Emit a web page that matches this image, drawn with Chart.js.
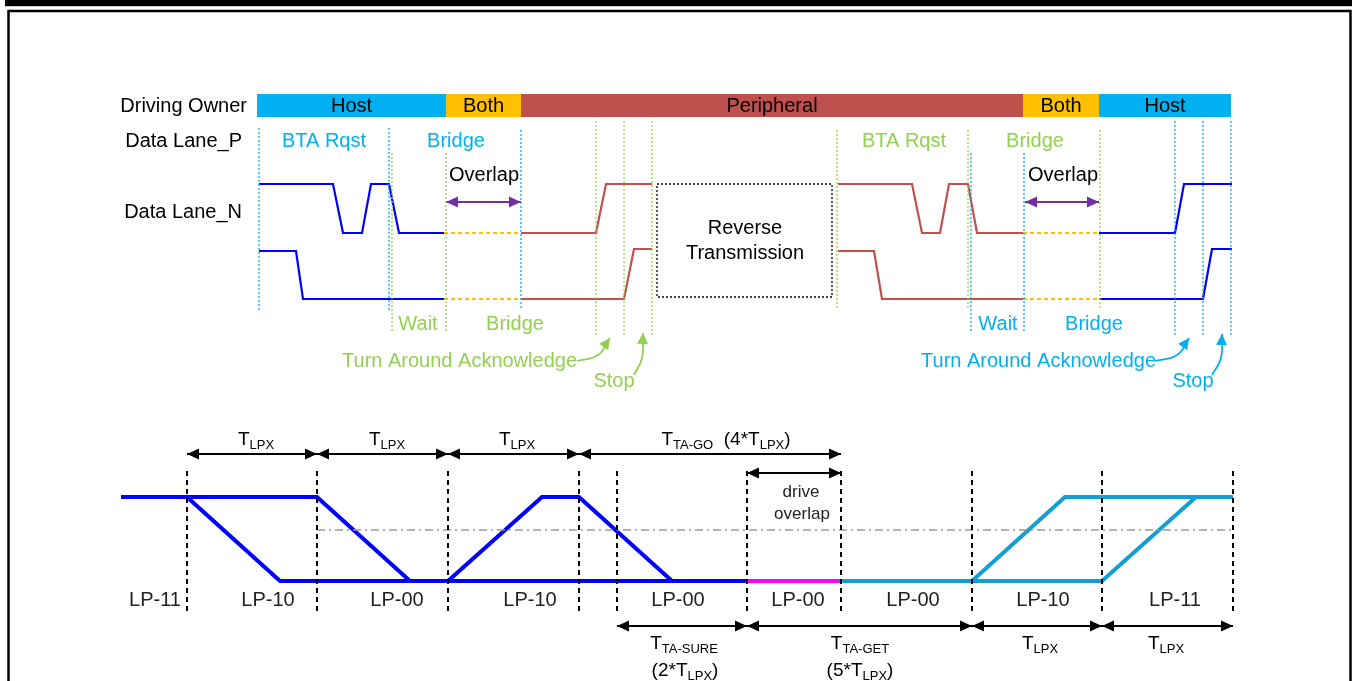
<!DOCTYPE html>
<html>
<head>
<meta charset="utf-8">
<title>LP turnaround timing</title>
<script src="https://cdn.jsdelivr.net/npm/chart.js@4.4.0/dist/chart.umd.min.js"></script>
<style>
  html, body { margin: 0; padding: 0; background: #fff; }
  #timing { display: block; }
</style>
</head>
<body>
<canvas id="timing" width="1357" height="681"></canvas>
<script>
// diagram space: x = time position, y = level position (top down)
const ownerNames = ['Host', 'Both', 'Peripheral', 'Both', 'Host']
const ownerEdges = [257, 446, 521, 1023, 1099, 1231]
const ownerColors = ['#00B0F0', '#FFC000', '#C0504D', '#FFC000', '#00B0F0']

// upper diagram: Data Lane_P / Data Lane_N
const laneP_host1 = [[259, 184], [333, 184], [343, 233], [362, 233], [371, 184], [389, 184], [399, 233], [444, 233]]
const laneN_host1 = [[259, 251], [296, 251], [303, 299], [444, 299]]
const laneP_bridge1 = [[444, 233], [521, 233]]
const laneN_bridge1 = [[444, 299], [521, 299]]
const laneP_per1 = [[521, 233], [596, 233], [606, 184], [652, 184]]
const laneN_per1 = [[521, 299], [624, 299], [634, 249], [652, 249]]
const laneP_per2 = [[838, 184], [912, 184], [922, 233], [940, 233], [949, 184], [968, 184], [977, 233], [1023, 233]]
const laneN_per2 = [[838, 251], [874, 251], [882, 299], [1023, 299]]
const laneP_bridge2 = [[1023, 233], [1099, 233]]
const laneN_bridge2 = [[1023, 299], [1099, 299]]
const laneP_host2 = [[1099, 233], [1175, 233], [1184, 184], [1232, 184]]
const laneN_host2 = [[1099, 299], [1203, 299], [1212, 249], [1232, 249]]
const reverseBox = [[657, 184], [832, 184], [832, 297], [657, 297], [657, 184]]

// dotted markers: [x, top, bottom]
const hostMarks = [[259, 128, 310], [389, 128, 310], [521, 130, 310], [971, 153, 333], [1024, 153, 333], [1175, 121, 336], [1203, 121, 336], [1231, 121, 336]]
const perMarks = [[392, 153, 333], [446, 153, 333], [596, 121, 336], [624, 121, 336], [652, 121, 336], [837, 130, 310], [968, 130, 310], [1100, 130, 310]]

const overlapArrows = [[446, 1025], [521, 1099]] // starts, ends
const overlapY = 202

// callout arrows (start, bend, tip)
const ackArrowPer = [[577, 361], [598, 355], [610, 338]]
const stopArrowPer = [[634, 375], [642, 358], [643, 333]]
const ackArrowHost = [[1155, 361], [1177, 355], [1189, 338]]
const stopArrowHost = [[1212, 375], [1221, 358], [1222, 334]]

// lower diagram: LP states
const lpWaveA = [[121, 497], [317, 497], [410, 581]]
const lpWaveB = [[187, 497], [280, 581], [747, 581]]
const lpWaveC = [[448, 581], [542, 497], [579, 497], [672, 581]]
const lpOverlap = [[747, 581], [841, 581]]
const lpWaveD = [[841, 581], [1102, 581], [1196, 497], [1233, 497]]
const lpWaveE = [[972, 581], [1065, 497], [1233, 497]]
const lpThresh = [[317, 530], [1232, 530]]
const lpMarks = [187, 317, 448, 579, 617, 747, 841, 972, 1102, 1233]
const lpMarkTop = 471
const lpMarkBottom = 614
const lpStates = ['LP-11', 'LP-10', 'LP-00', 'LP-10', 'LP-00', 'LP-00', 'LP-00', 'LP-10', 'LP-11']
const lpStateX = [155, 268, 397, 530, 678, 798, 913, 1043, 1175]

const spanRow1 = [[187, 317], [317, 448], [448, 579], [579, 841]]
const spanRow2 = [[747, 841]]
const spanRow3 = [[617, 747], [747, 972], [972, 1102], [1102, 1233]]
const spanY = [454, 473, 626]

const FONT = '"Liberation Sans", Arial, sans-serif'

function line(data, color, width, extra) {
  return Object.assign({
    data: data.map(([x, y]) => ({ x, y })),
    showLine: true,
    borderColor: color,
    borderWidth: width,
    pointRadius: 0,
    fill: false,
    tension: 0,
  }, extra || {})
}

const datasets = []

// owner bars
ownerNames.forEach((name, i) => {
  datasets.push(line([[ownerEdges[i], 94], [ownerEdges[i + 1], 94]], ownerColors[i], 0, {
    fill: { value: 117 },
    backgroundColor: ownerColors[i],
  }))
})

hostMarks.forEach(([x, t, b]) => datasets.push(line([[x, t], [x, b]], '#00B0F0', 1.3, { borderDash: [2, 2] })))
perMarks.forEach(([x, t, b]) => datasets.push(line([[x, t], [x, b]], '#92D050', 1.3, { borderDash: [2, 2] })))

const BLUE = '#0000FF'
const RED = '#C0504D'
datasets.push(line(laneP_host1, BLUE, 2.2), line(laneN_host1, BLUE, 2.2))
datasets.push(line(laneP_bridge1, '#FFC000', 2, { borderDash: [4, 3] }), line(laneN_bridge1, '#FFC000', 2, { borderDash: [4, 3] }))
datasets.push(line(laneP_per1, RED, 2.2), line(laneN_per1, RED, 2.2))
datasets.push(line(laneP_per2, RED, 2.2), line(laneN_per2, RED, 2.2))
datasets.push(line(laneP_bridge2, '#FFC000', 2, { borderDash: [4, 3] }), line(laneN_bridge2, '#FFC000', 2, { borderDash: [4, 3] }))
datasets.push(line(laneP_host2, BLUE, 2.2), line(laneN_host2, BLUE, 2.2))
datasets.push(line(reverseBox, '#000', 1.3, { borderDash: [2, 2] }))

overlapArrows[0].forEach((x0, i) => {
  datasets.push(line([[x0, overlapY], [overlapArrows[1][i], overlapY]], '#7030A0', 2, { arrowEnds: 'both', arrowLen: 12, arrowHalf: 5.5 }))
})

datasets.push(line(ackArrowPer, '#92D050', 1.8, { tension: 0.45, arrowEnds: 'end', arrowLen: 11, arrowHalf: 5.5 }))
datasets.push(line(stopArrowPer, '#92D050', 1.8, { tension: 0.45, arrowEnds: 'end', arrowLen: 11, arrowHalf: 5.5 }))
datasets.push(line(ackArrowHost, '#00B0F0', 1.8, { tension: 0.45, arrowEnds: 'end', arrowLen: 11, arrowHalf: 5.5 }))
datasets.push(line(stopArrowHost, '#00B0F0', 1.8, { tension: 0.45, arrowEnds: 'end', arrowLen: 11, arrowHalf: 5.5 }))

// lower diagram
lpMarks.forEach((x) => datasets.push(line([[x, lpMarkTop], [x, lpMarkBottom]], '#000', 2, { borderDash: [5, 4] })))
datasets.push(line(lpThresh, '#9A9A9A', 1.5, { borderDash: [8, 4, 2, 4] }))
datasets.push(line(lpWaveA, BLUE, 4), line(lpWaveB, BLUE, 4), line(lpWaveC, BLUE, 4))
datasets.push(line(lpWaveD, '#139FD3', 4), line(lpWaveE, '#139FD3', 4))
datasets.push(line(lpOverlap, '#FF00FF', 4))

;[spanRow1, spanRow2, spanRow3].forEach((row, r) => {
  row.forEach(([a, b]) => datasets.push(line([[a, spanY[r]], [b, spanY[r]]], '#000', 2, { arrowEnds: 'both', arrowLen: 12, arrowHalf: 5.5 })))
})

// texts: [text, x, y, color, size, align]
const labels = [
  ['Driving Owner', 247, 106, '#000', 20, 'right'],
  ['Data Lane_P', 242, 141, '#000', 20, 'right'],
  ['Data Lane_N', 242, 212, '#000', 20, 'right'],
  ['BTA Rqst', 324, 141, '#00B0F0', 20, 'center'],
  ['Bridge', 456, 141, '#00B0F0', 20, 'center'],
  ['BTA Rqst', 904, 141, '#92D050', 20, 'center'],
  ['Bridge', 1035, 141, '#92D050', 20, 'center'],
  ['Overlap', 484, 175, '#000', 20, 'center'],
  ['Overlap', 1063, 175, '#000', 20, 'center'],
  ['Reverse', 745, 228, '#000', 20, 'center'],
  ['Transmission', 745, 253, '#000', 20, 'center'],
  ['Wait', 418, 324, '#92D050', 20, 'center'],
  ['Bridge', 515, 324, '#92D050', 20, 'center'],
  ['Wait', 998, 324, '#00B0F0', 20, 'center'],
  ['Bridge', 1094, 324, '#00B0F0', 20, 'center'],
  ['Turn Around Acknowledge', 577, 361, '#92D050', 20, 'right'],
  ['Stop', 614, 381, '#92D050', 20, 'center'],
  ['Turn Around Acknowledge', 1156, 361, '#00B0F0', 20, 'right'],
  ['Stop', 1193, 381, '#00B0F0', 20, 'center'],
  ['drive', 801, 492, '#222', 17, 'center'],
  ['overlap', 802, 514, '#222', 17, 'center'],
]
// rich texts with subscripts: baseline y
const richLabels = [
  ['T_{LPX}', 256, 445],
  ['T_{LPX}', 387, 445],
  ['T_{LPX}', 517, 445],
  ['T_{TA-GO}  (4*T_{LPX})', 726, 445],
  ['T_{TA-SURE}', 684, 649],
  ['(2*T_{LPX})', 685, 676],
  ['T_{TA-GET}', 860, 649],
  ['(5*T_{LPX})', 860, 676],
  ['T_{LPX}', 1040, 649],
  ['T_{LPX}', 1166, 649],
]

function drawRich(ctx, str, x, y, size) {
  const parts = []
  const re = /_\{([^}]*)\}/g
  let last = 0
  let m
  while ((m = re.exec(str))) {
    if (m.index > last) parts.push([str.slice(last, m.index), false])
    parts.push([m[1], true])
    last = re.lastIndex
  }
  if (last < str.length) parts.push([str.slice(last), false])
  const subSize = 13
  let total = 0
  parts.forEach(([t, sub]) => {
    ctx.font = `${sub ? subSize : size}px ${FONT}`
    total += ctx.measureText(t).width
  })
  let cx = x - total / 2
  ctx.textAlign = 'left'
  ctx.textBaseline = 'alphabetic'
  parts.forEach(([t, sub]) => {
    ctx.font = `${sub ? subSize : size}px ${FONT}`
    ctx.fillText(t, cx, sub ? y + 4 : y)
    cx += ctx.measureText(t).width
  })
}

const decorPlugin = {
  id: 'decor',
  beforeDraw(chart) {
    const { ctx, width, height } = chart
    ctx.save()
    ctx.fillStyle = '#fff'
    ctx.fillRect(0, 0, width, height)
    ctx.fillStyle = '#000'
    ctx.fillRect(5, 0, 1347, 6)
    ctx.fillStyle = '#c8c8c8'
    ctx.fillRect(5, 6, 1347, 1)
    ctx.strokeStyle = '#000'
    ctx.lineWidth = 2.5
    ctx.beginPath()
    ctx.moveTo(8.5, height + 5)
    ctx.lineTo(8.5, 11)
    ctx.lineTo(1350.5, 11)
    ctx.lineTo(1350.5, height + 5)
    ctx.stroke()
    ctx.restore()
  },
  afterDatasetsDraw(chart) {
    const { ctx } = chart
    const sx = chart.scales.x
    const sy = chart.scales.y
    ctx.save()
    // arrow heads
    chart.data.datasets.forEach((ds, i) => {
      if (!ds.arrowEnds) return
      const pts = chart.getDatasetMeta(i).data
      const head = (tip, from) => {
        const ang = Math.atan2(tip.y - from.y, tip.x - from.x)
        const L = ds.arrowLen
        const H = ds.arrowHalf
        ctx.beginPath()
        ctx.moveTo(tip.x, tip.y)
        ctx.lineTo(tip.x - L * Math.cos(ang) + H * Math.sin(ang), tip.y - L * Math.sin(ang) - H * Math.cos(ang))
        ctx.lineTo(tip.x - L * Math.cos(ang) - H * Math.sin(ang), tip.y - L * Math.sin(ang) + H * Math.cos(ang))
        ctx.closePath()
        ctx.fill()
      }
      ctx.fillStyle = ds.borderColor
      const n = pts.length
      const last = pts[n - 1]
      const from = ds.tension && last.cp1x !== undefined ? { x: last.cp1x, y: last.cp1y } : pts[n - 2]
      head(last, from)
      if (ds.arrowEnds === 'both') head(pts[0], pts[1])
    })
    // owner names
    ctx.fillStyle = '#000'
    ctx.font = `20px ${FONT}`
    ctx.textAlign = 'center'
    ctx.textBaseline = 'middle'
    ownerNames.forEach((name, i) => {
      const cx = sx.getPixelForValue((ownerEdges[i] + ownerEdges[i + 1]) / 2)
      ctx.fillText(name, cx, sy.getPixelForValue(106))
    })
    labels.forEach(([t, x, y, color, size, align]) => {
      ctx.fillStyle = color
      ctx.font = `${size}px ${FONT}`
      ctx.textAlign = align
      ctx.textBaseline = 'middle'
      ctx.fillText(t, sx.getPixelForValue(x), sy.getPixelForValue(y))
    })
    ctx.fillStyle = '#222'
    ctx.font = `20px ${FONT}`
    ctx.textAlign = 'center'
    lpStates.forEach((t, i) => {
      ctx.fillText(t, sx.getPixelForValue(lpStateX[i]), sy.getPixelForValue(600))
    })
    ctx.fillStyle = '#000'
    richLabels.forEach(([t, x, y]) => drawRich(ctx, t, sx.getPixelForValue(x), sy.getPixelForValue(y), 19))
    ctx.restore()
  },
}

new Chart(document.getElementById('timing'), {
  type: 'scatter',
  data: { datasets },
  options: {
    responsive: false,
    animation: false,
    events: [],
    layout: { padding: 0 },
    plugins: { legend: { display: false }, tooltip: { enabled: false } },
    scales: {
      x: { type: 'linear', min: 0, max: 1357, display: false },
      y: { type: 'linear', min: 0, max: 681, reverse: true, display: false },
    },
  },
  plugins: [decorPlugin],
})
</script>
</body>
</html>
